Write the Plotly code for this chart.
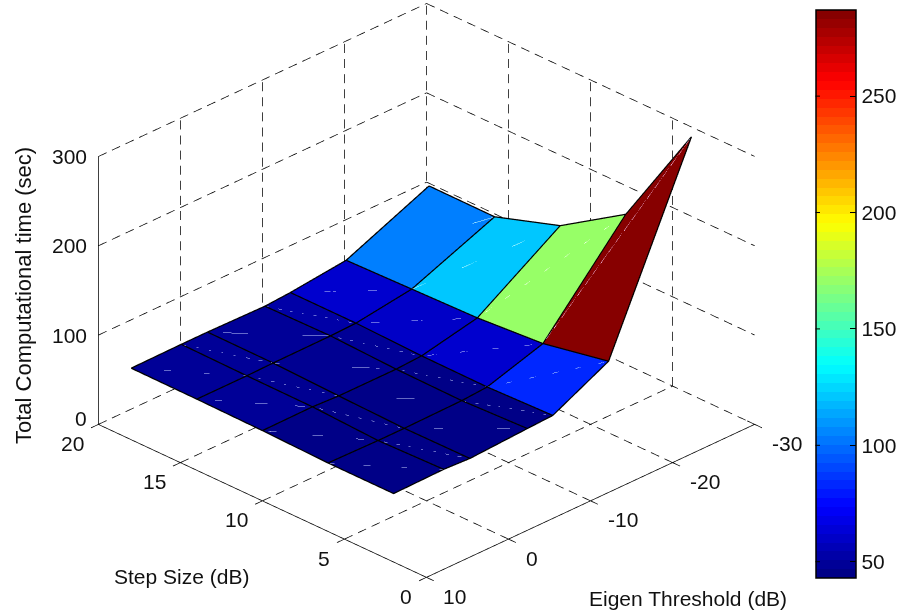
import numpy as np
import plotly.graph_objects as go

# ---- data ----
eigen_vals = [10, 3.9, 0.7, -6.3, -9.4, -16.2, -26.3]
step_vals = [2, 6, 10, 14, 18]
# z_height[step index][eigen index]
z_height = [
    [76, 77, 75.5, 79, 80.4, 112, 320],
    [76, 75, 75, 76, 78, 97.5, 199],
    [78, 78.5, 77, 77, 78.6, 92, 152],
    [79, 79, 79.6, 80, 81, 90, 127.7],
    [79.4, 80, 80, 79, 81, 88, 128],
]
# cell_color[step segment][eigen segment]
cell_color = [
    [45, 45, 44, 45, 83, 287],
    [46, 45, 45, 45, 62, 169],
    [48, 47, 47, 48, 60, 122],
    [50, 49, 49, 52, 62, 104],
]
eigen_ticks = [10, 0, -10, -20, -30]
step_ticks = [0, 5, 10, 15, 20]
z_ticks = [0, 100, 200, 300]
cbar_ticks = [50, 100, 150, 200, 250]
cmin, cmax = 43, 287
FONT = "Liberation Sans, Arial, sans-serif"
FS = 21
LIFT = 0.7

# ---- stepped 64-level jet ----
def jet(t):
    r = np.clip(min(4 * t - 1.5, -4 * t + 4.5), 0, 1)
    g = np.clip(min(4 * t - 0.5, -4 * t + 3.5), 0, 1)
    b = np.clip(min(4 * t + 0.5, -4 * t + 2.5), 0, 1)
    return f"rgb({int(r*255)},{int(g*255)},{int(b*255)})"

scale = []
for n in range(64):
    c = jet((n + 0.5) / 64)
    scale += [[n / 64, c], [(n + 1) / 64, c]]

# ---- mesh ----
ne, ns = len(eigen_vals), len(step_vals)
vx, vy, vz = [], [], []
for a in range(ns):
    for b in range(ne):
        vx.append(eigen_vals[b]); vy.append(step_vals[a]); vz.append(z_height[a][b])
ii, jj, kk, inten = [], [], [], []
diag = [[], [], []]
for a in range(ns - 1):
    for b in range(ne - 1):
        p = a * ne + b
        q, r, s = p + 1, p + ne, p + ne + 1
        ii += [p, q]; jj += [q, s]; kk += [r, r]
        inten += [cell_color[a][b]] * 2
        diag[0] += [vx[r], vx[q], None]
        diag[1] += [vy[r], vy[q], None]
        diag[2] += [vz[r] + LIFT * 0.7, vz[q] + LIFT * 0.7, None]

fig = go.Figure()
fig.add_trace(go.Mesh3d(
    x=vx, y=vy, z=vz, i=ii, j=jj, k=kk, intensity=inten, intensitymode="cell",
    colorscale=scale, cmin=cmin, cmax=cmax, flatshading=True,
    lighting=dict(ambient=1, diffuse=0, specular=0, fresnel=0, roughness=1),
    colorbar=dict(
        xref="container", yref="container",
        x=815.5 / 898, xanchor="left", xpad=0, y=1 - 10 / 613, yanchor="top", ypad=0,
        lenmode="pixels", len=568, thicknessmode="pixels", thickness=40,
        outlinecolor="black", outlinewidth=1.5,
        tickmode="array", tickvals=cbar_ticks, ticktext=[str(t) for t in cbar_ticks],
        ticks="inside", ticklen=6, tickcolor="black", tickwidth=1,
        ticklabeloverflow="allow",
        tickfont=dict(family=FONT, size=FS, color="#111"),
    ),
))

def line_trace(segs, color="black", width=1.5):
    X, Y, Z = [], [], []
    for (p0, p1) in segs:
        X += [p0[0], p1[0], None]; Y += [p0[1], p1[1], None]; Z += [p0[2], p1[2], None]
    fig.add_trace(go.Scatter3d(x=X, y=Y, z=Z, mode="lines", showlegend=False, hoverinfo="skip",
                               line=dict(color=color, width=width)))

def dashed(p0, p1, on=9.0, off=6.0):
    # split a grid line into dashes of roughly constant on-screen length
    px = abs(p1[0] - p0[0]) * 9.05 + abs(p1[1] - p0[1]) * 18.2 + abs(p1[2] - p0[2]) * 0.887
    out, t = [], 0.0
    while t < px:
        t1 = min(t + on, px)
        out.append((tuple(p0[i] + (p1[i] - p0[i]) * t / px for i in range(3)),
                    tuple(p0[i] + (p1[i] - p0[i]) * t1 / px for i in range(3))))
        t += on + off
    return out

# surface edges
edges = []
for a in range(ns):
    for b in range(ne - 1):
        edges.append(((eigen_vals[b], step_vals[a], z_height[a][b] + LIFT),
                      (eigen_vals[b + 1], step_vals[a], z_height[a][b + 1] + LIFT)))
for b in range(ne):
    for a in range(ns - 1):
        edges.append(((eigen_vals[b], step_vals[a], z_height[a][b] + LIFT),
                      (eigen_vals[b], step_vals[a + 1], z_height[a + 1][b] + LIFT)))
fig.add_trace(go.Scatter3d(x=diag[0], y=diag[1], z=diag[2], mode="lines", showlegend=False,
                           hoverinfo="skip", line=dict(color="rgba(200,210,255,0.5)", width=1)))
line_trace(edges, width=2.5)

# dashed grid
E0, E1 = eigen_ticks[0], eigen_ticks[-1]
S0, S1 = step_ticks[0], step_ticks[-1]
Z1 = z_ticks[-1]
grid = []
for e in eigen_ticks[1:-1]:
    grid += dashed((e, S0, 0), (e, S1, 0))
    grid += dashed((e, S1, 0), (e, S1, Z1))
for s in step_ticks[1:-1]:
    grid += dashed((E0, s, 0), (E1, s, 0))
    grid += dashed((E1, s, 0), (E1, s, Z1))
grid += dashed((E1, S1, 0), (E1, S1, Z1))
for z in z_ticks:
    grid += dashed((E0, S1, z), (E1, S1, z))
    grid += dashed((E1, S1, z), (E1, S0, z))
line_trace(grid, width=1.5)

# solid box and ticks
box = [((E0, S0, 0), (E1, S0, 0)), ((E0, S0, 0), (E0, S1, 0)), ((E0, S1, 0), (E0, S1, Z1))]
for e in eigen_ticks:
    box.append(((e, S0 - 0.45, 0), (e, S0 + 0.45, 0)))
for s in step_ticks:
    box.append(((E0 + 0.9, s, 0), (E0 - 0.9, s, 0)))
for z in z_ticks:
    box.append(((E0, S1, z), (E0 - 1, S1, z)))
line_trace(box, width=1.5)

# tick labels
ann = []
txt = dict(showarrow=False, font=dict(family=FONT, size=FS, color="#111"))
for s in step_ticks:
    ann.append(dict(x=E0, y=s, z=0, text=str(s), xanchor="right", yanchor="middle",
                    xshift=-12, yshift=-19, **txt))
for e in eigen_ticks:
    ann.append(dict(x=e, y=S0, z=0, text=str(e), xanchor="left", yanchor="middle",
                    xshift=15, yshift=-19, **txt))
for z in z_ticks:
    ann.append(dict(x=E0, y=S1, z=z, text=str(z), xanchor="right", yanchor="middle",
                    xshift=-9, yshift=6 if z == 0 else 0, **txt))

ax = dict(visible=True, showgrid=False, showline=False, zeroline=False, showticklabels=False,
          ticks="", showbackground=False, showspikes=False, title=dict(text=""))
a = 1.25
cbar_marks = [dict(x=815.5 / 898, y=1 - (10 + (cmax - t) / (cmax - cmin) * 568) / 613,
                   xref="paper", yref="paper", text="", showarrow=True, arrowhead=0, arrowwidth=1,
                   arrowcolor="black", ax=6, ay=0, standoff=0) for t in cbar_ticks]
fig.update_layout(
    width=898, height=613, paper_bgcolor="white", showlegend=False,
    margin=dict(l=0, r=0, t=0, b=0, autoexpand=False),
    scene=dict(
        domain=dict(x=[0, 0.95], y=[0, 1]),
        xaxis=dict(ax, range=[11, -31]),
        yaxis=dict(ax, range=[-1, 21]),
        zaxis=dict(ax, range=[-76, 340]),
        aspectmode="manual", aspectratio=dict(x=1.59, y=1.665, z=1.37),
        camera=dict(projection=dict(type="orthographic"),
                    eye=dict(x=-a, y=-a, z=a * 1.4142 * 0.527),
                    up=dict(x=0, y=0, z=1), center=dict(x=0, y=0, z=0)),
        annotations=ann,
    ),
    annotations=[
        dict(x=181 / 898, y=1 - 576 / 613, xref="paper", yref="paper", xanchor="center", yanchor="middle",
             text="Step Size (dB)", **txt),
        dict(x=688 / 898, y=1 - 598 / 613, xref="paper", yref="paper", xanchor="center", yanchor="middle",
             text="Eigen Threshold (dB)", **txt),
        dict(x=23 / 898, y=1 - 296 / 613, xref="paper", yref="paper", xanchor="center", yanchor="middle",
             text="Total Computational time (sec)",
             textangle=-90, showarrow=False, font=dict(family=FONT, size=22, color="#111")),
    ] + cbar_marks,
)
fig.write_html("out.html", config=dict(displayModeBar=False),
               post_script="document.body.style.margin='0';document.documentElement.style.overflow='hidden';")
